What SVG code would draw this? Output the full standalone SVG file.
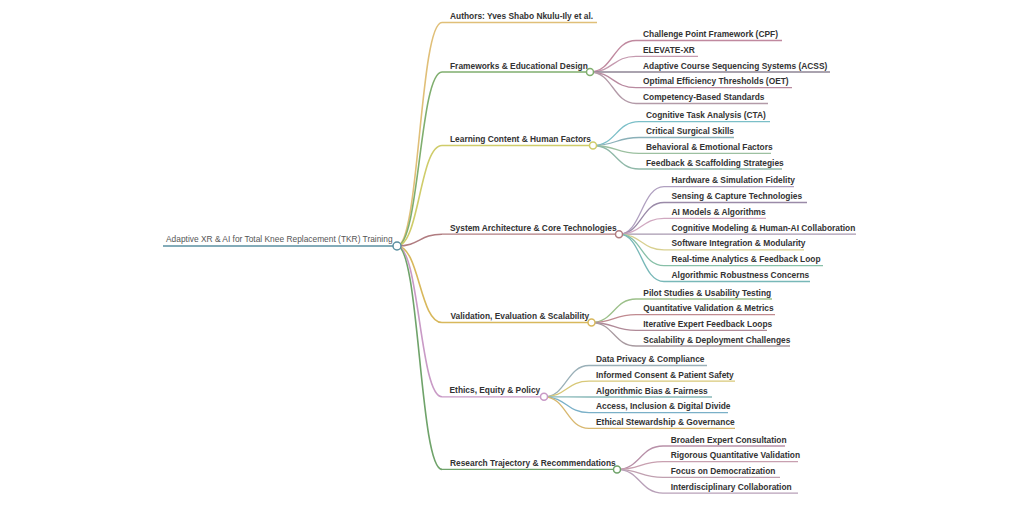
<svg xmlns="http://www.w3.org/2000/svg" width="1024" height="505" viewBox="0 0 1024 505">
<style>
text{font-family:"Liberation Sans",Arial,sans-serif;font-size:8.4px;fill:#333;font-weight:bold}
.root text{font-weight:normal;fill:#555}
.link{fill:none;stroke-width:1.3}
.l1{stroke-width:1.6}
.ul{fill:none;stroke-width:1.3}
.circ{fill:#fff;stroke-width:1.5}
</style>
<rect width="1024" height="505" fill="#fff"/>
<g id="connectors">
<path class="link l1" stroke="#e0bf78" d="M397,246 C419.5,246 419.5,22.5 442,22.5"/>
<path class="link l1" stroke="#7fae6e" d="M397,246 C419.5,246 419.5,72 442,72"/>
<path class="link l1" stroke="#cfcc6a" d="M397,246 C419.5,246 419.5,145.5 442,145.5"/>
<path class="link l1" stroke="#b07c80" d="M397,246 C419.5,246 419.5,234.2 442,234.2"/>
<path class="link l1" stroke="#d8b85c" d="M397,246 C419.5,246 419.5,322.5 442,322.5"/>
<path class="link l1" stroke="#c99ac6" d="M397,246 C419.5,246 419.5,396.8 442,396.8"/>
<path class="link l1" stroke="#6fa36a" d="M397,246 C419.5,246 419.5,469.4 442,469.4"/>
<path class="link" stroke="#c0899f" d="M590,72 C613,72 613,40.5 636,40.5"/>
<path class="link" stroke="#c59aaf" d="M590,72 C613,72 613,56.3 636,56.3"/>
<path class="link" stroke="#8e8494" d="M590,72 C613,72 613,72 636,72"/>
<path class="link" stroke="#b98aa0" d="M590,72 C613,72 613,87.7 636,87.7"/>
<path class="link" stroke="#b39aa8" d="M590,72 C613,72 613,103.5 636,103.5"/>
<path class="link" stroke="#7bbfc8" d="M593,145.5 C616,145.5 616,121.7 639,121.7"/>
<path class="link" stroke="#8ab0b8" d="M593,145.5 C616,145.5 616,137.5 639,137.5"/>
<path class="link" stroke="#9cc0a0" d="M593,145.5 C616,145.5 616,153.3 639,153.3"/>
<path class="link" stroke="#8fb8a8" d="M593,145.5 C616,145.5 616,169 639,169"/>
<path class="link" stroke="#b0a0c0" d="M619,234.2 C641.5,234.2 641.5,186.7 664,186.7"/>
<path class="link" stroke="#9a8aa8" d="M619,234.2 C641.5,234.2 641.5,202.5 664,202.5"/>
<path class="link" stroke="#d0a8c0" d="M619,234.2 C641.5,234.2 641.5,218.3 664,218.3"/>
<path class="link" stroke="#a899b0" d="M619,234.2 C641.5,234.2 641.5,234.1 664,234.1"/>
<path class="link" stroke="#d8d090" d="M619,234.2 C641.5,234.2 641.5,249.9 664,249.9"/>
<path class="link" stroke="#88c0a8" d="M619,234.2 C641.5,234.2 641.5,265.7 664,265.7"/>
<path class="link" stroke="#78b8b8" d="M619,234.2 C641.5,234.2 641.5,281.5 664,281.5"/>
<path class="link" stroke="#9cc08a" d="M591.5,322.5 C613.8,322.5 613.8,299 636,299"/>
<path class="link" stroke="#c08a90" d="M591.5,322.5 C613.8,322.5 613.8,314.7 636,314.7"/>
<path class="link" stroke="#b08a98" d="M591.5,322.5 C613.8,322.5 613.8,330.4 636,330.4"/>
<path class="link" stroke="#a89aa0" d="M591.5,322.5 C613.8,322.5 613.8,346 636,346"/>
<path class="link" stroke="#9ab0b8" d="M544,396.8 C566.5,396.8 566.5,365.5 589,365.5"/>
<path class="link" stroke="#d8c878" d="M544,396.8 C566.5,396.8 566.5,381.2 589,381.2"/>
<path class="link" stroke="#88b8b8" d="M544,396.8 C566.5,396.8 566.5,397 589,397"/>
<path class="link" stroke="#7ab0c8" d="M544,396.8 C566.5,396.8 566.5,412.7 589,412.7"/>
<path class="link" stroke="#d8b870" d="M544,396.8 C566.5,396.8 566.5,428.4 589,428.4"/>
<path class="link" stroke="#b890a8" d="M617,469.4 C640,469.4 640,446 663,446"/>
<path class="link" stroke="#c8a0b0" d="M617,469.4 C640,469.4 640,461.7 663,461.7"/>
<path class="link" stroke="#c0a0b0" d="M617,469.4 C640,469.4 640,477.4 663,477.4"/>
<path class="link" stroke="#b8a0b8" d="M617,469.4 C640,469.4 640,493.1 663,493.1"/>
</g>
<g id="root" class="root">
<line class="ul" stroke="#5a8fa0" stroke-width="2" x1="163" y1="246" x2="397" y2="246"/>
<text x="166" y="242">Adaptive XR &amp; AI for Total Knee Replacement (TKR) Training</text>
<circle class="circ" stroke="#5a8fa0" cx="397" cy="246" r="4"/>
</g>
<g id="authors">
<line class="ul" stroke="#e0bf78" x1="442" y1="22.5" x2="597" y2="22.5"/>
<text x="450" y="19">Authors: Yves Shabo Nkulu-Ily et al.</text>
</g>
<g id="frameworks">
<line class="ul" stroke="#7fae6e" x1="442" y1="72" x2="590" y2="72"/>
<text x="450" y="68.5">Frameworks &amp; Educational Design</text>
<circle class="circ" stroke="#7fae6e" cx="590" cy="72" r="3.5"/>
</g>
<g id="fw-cpf"><line class="ul" stroke="#c0899f" x1="636" y1="40.5" x2="782" y2="40.5"/><text x="643" y="37">Challenge Point Framework (CPF)</text></g>
<g id="fw-elevate"><line class="ul" stroke="#c59aaf" x1="636" y1="56.3" x2="698" y2="56.3"/><text x="643" y="52.8">ELEVATE-XR</text></g>
<g id="fw-acss"><line class="ul" stroke="#8e8494" x1="636" y1="72" x2="830" y2="72"/><text x="643" y="68.5">Adaptive Course Sequencing Systems (ACSS)</text></g>
<g id="fw-oet"><line class="ul" stroke="#b98aa0" x1="636" y1="87.7" x2="792" y2="87.7"/><text x="643" y="84.2">Optimal Efficiency Thresholds (OET)</text></g>
<g id="fw-cbs"><line class="ul" stroke="#b39aa8" x1="636" y1="103.5" x2="768" y2="103.5"/><text x="643" y="100">Competency-Based Standards</text></g>
<g id="learning">
<line class="ul" stroke="#cfcc6a" x1="442" y1="145.5" x2="593" y2="145.5"/>
<text x="450" y="142">Learning Content &amp; Human Factors</text>
<circle class="circ" stroke="#cfcc6a" cx="593" cy="145.5" r="3.5"/>
</g>
<g id="lc-cta"><line class="ul" stroke="#7bbfc8" x1="639" y1="121.7" x2="770" y2="121.7"/><text x="646" y="118.2">Cognitive Task Analysis (CTA)</text></g>
<g id="lc-css"><line class="ul" stroke="#8ab0b8" x1="639" y1="137.5" x2="734" y2="137.5"/><text x="646" y="134">Critical Surgical Skills</text></g>
<g id="lc-bef"><line class="ul" stroke="#9cc0a0" x1="639" y1="153.3" x2="771" y2="153.3"/><text x="646" y="149.8">Behavioral &amp; Emotional Factors</text></g>
<g id="lc-fss"><line class="ul" stroke="#8fb8a8" x1="639" y1="169" x2="782" y2="169"/><text x="646" y="165.5">Feedback &amp; Scaffolding Strategies</text></g>
<g id="system">
<line class="ul" stroke="#b07c80" x1="442" y1="234.2" x2="619" y2="234.2"/>
<text x="450" y="230.7">System Architecture &amp; Core Technologies</text>
<circle class="circ" stroke="#b07c80" cx="619" cy="234.2" r="3.5"/>
</g>
<g id="sa-hw"><line class="ul" stroke="#b0a0c0" x1="664" y1="186.7" x2="794" y2="186.7"/><text x="671.5" y="183.2">Hardware &amp; Simulation Fidelity</text></g>
<g id="sa-sc"><line class="ul" stroke="#9a8aa8" x1="664" y1="202.5" x2="807" y2="202.5"/><text x="671.5" y="199">Sensing &amp; Capture Technologies</text></g>
<g id="sa-ai"><line class="ul" stroke="#d0a8c0" x1="664" y1="218.3" x2="766" y2="218.3"/><text x="671.5" y="214.8">AI Models &amp; Algorithms</text></g>
<g id="sa-cm"><line class="ul" stroke="#a899b0" x1="664" y1="234.1" x2="856" y2="234.1"/><text x="671.5" y="230.6">Cognitive Modeling &amp; Human-AI Collaboration</text></g>
<g id="sa-si"><line class="ul" stroke="#d8d090" x1="664" y1="249.9" x2="804" y2="249.9"/><text x="671.5" y="246.4">Software Integration &amp; Modularity</text></g>
<g id="sa-rt"><line class="ul" stroke="#88c0a8" x1="664" y1="265.7" x2="823" y2="265.7"/><text x="671.5" y="262.2">Real-time Analytics &amp; Feedback Loop</text></g>
<g id="sa-ar"><line class="ul" stroke="#78b8b8" x1="664" y1="281.5" x2="810" y2="281.5"/><text x="671.5" y="278">Algorithmic Robustness Concerns</text></g>
<g id="validation">
<line class="ul" stroke="#d8b85c" x1="442" y1="322.5" x2="591.5" y2="322.5"/>
<text x="450.5" y="319">Validation, Evaluation &amp; Scalability</text>
<circle class="circ" stroke="#d8b85c" cx="591.5" cy="322.5" r="3.5"/>
</g>
<g id="ve-pilot"><line class="ul" stroke="#9cc08a" x1="636" y1="299" x2="772" y2="299"/><text x="643.3" y="295.5">Pilot Studies &amp; Usability Testing</text></g>
<g id="ve-qv"><line class="ul" stroke="#c08a90" x1="636" y1="314.7" x2="775" y2="314.7"/><text x="643.3" y="311.2">Quantitative Validation &amp; Metrics</text></g>
<g id="ve-ief"><line class="ul" stroke="#b08a98" x1="636" y1="330.4" x2="767" y2="330.4"/><text x="643.3" y="326.9">Iterative Expert Feedback Loops</text></g>
<g id="ve-sdc"><line class="ul" stroke="#a89aa0" x1="636" y1="346" x2="790" y2="346"/><text x="643.3" y="342.5">Scalability &amp; Deployment Challenges</text></g>
<g id="ethics">
<line class="ul" stroke="#c99ac6" x1="442" y1="396.8" x2="544" y2="396.8"/>
<text x="449.5" y="393.3">Ethics, Equity &amp; Policy</text>
<circle class="circ" stroke="#c99ac6" cx="544" cy="396.8" r="3.5"/>
</g>
<g id="ep-dp"><line class="ul" stroke="#9ab0b8" x1="589" y1="365.5" x2="707" y2="365.5"/><text x="596" y="362">Data Privacy &amp; Compliance</text></g>
<g id="ep-ic"><line class="ul" stroke="#d8c878" x1="589" y1="381.2" x2="735" y2="381.2"/><text x="596" y="377.7">Informed Consent &amp; Patient Safety</text></g>
<g id="ep-ab"><line class="ul" stroke="#88b8b8" x1="589" y1="397" x2="712" y2="397"/><text x="596" y="393.5">Algorithmic Bias &amp; Fairness</text></g>
<g id="ep-ai"><line class="ul" stroke="#7ab0c8" x1="589" y1="412.7" x2="728" y2="412.7"/><text x="596" y="409.2">Access, Inclusion &amp; Digital Divide</text></g>
<g id="ep-es"><line class="ul" stroke="#d8b870" x1="589" y1="428.4" x2="735" y2="428.4"/><text x="596" y="424.9">Ethical Stewardship &amp; Governance</text></g>
<g id="research">
<line class="ul" stroke="#6fa36a" x1="442" y1="469.4" x2="617" y2="469.4"/>
<text x="450" y="465.9">Research Trajectory &amp; Recommendations</text>
<circle class="circ" stroke="#6fa36a" cx="617" cy="469.4" r="3.5"/>
</g>
<g id="rt-bec"><line class="ul" stroke="#b890a8" x1="663" y1="446" x2="785" y2="446"/><text x="670.7" y="442.5">Broaden Expert Consultation</text></g>
<g id="rt-rqv"><line class="ul" stroke="#c8a0b0" x1="663" y1="461.7" x2="798" y2="461.7"/><text x="670.7" y="458.2">Rigorous Quantitative Validation</text></g>
<g id="rt-fd"><line class="ul" stroke="#c0a0b0" x1="663" y1="477.4" x2="780" y2="477.4"/><text x="670.7" y="473.9">Focus on Democratization</text></g>
<g id="rt-ic"><line class="ul" stroke="#b8a0b8" x1="663" y1="493.1" x2="798" y2="493.1"/><text x="670.7" y="489.6">Interdisciplinary Collaboration</text></g>
</svg>
